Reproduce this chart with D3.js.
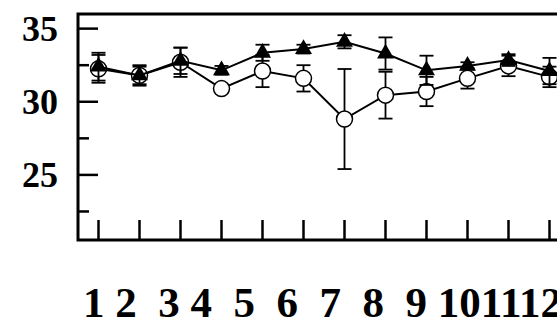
<!DOCTYPE html>
<html>
<head>
<meta charset="utf-8">
<script src="https://cdn.jsdelivr.net/npm/d3@7"></script>
<style>
  body { margin: 0; background: #fff; }
  text { font-family: "Liberation Serif", "Times New Roman", serif; font-weight: bold; fill: #000; }
</style>
</head>
<body>
<div id="chart"></div>
<script>
// categories (x) and tick labels
var xValues = [1, 2, 3, 4, 5, 6, 7, 8, 9, 10, 11, 12];
var xLabels = ["1", "2", "3", "4", "5", "6", "7", "8", "9", "10", "11", "12"];
var yMajorTicks = [25, 30, 35];
var yMinorTicks = [22.5, 27.5, 32.5];

// filled triangles series: mean and error
var triMean = [32.4, 31.8, 32.8, 32.15, 33.35, 33.6, 34.1, 33.3, 32.15, 32.45, 32.85, 32.1];
var triErr  = [0.95, 0.6, 0.9, 0.3, 0.55, 0.3, 0.45, 1.1, 1.0, 0.25, 0.4, 0.9];

// open circles series: mean and error
var circMean = [32.25, 31.8, 32.7, 30.9, 32.1, 31.6, 28.82, 30.45, 30.7, 31.6, 32.45, 31.7];
var circErr  = [0.95, 0.7, 1.0, 0.3, 1.1, 0.9, 3.42, 1.6, 1.0, 0.7, 0.7, 0.7];

var width = 557, height = 320;

var x = d3.scaleLinear().domain([0.5, 12.5]).range([78, 570]);
var y = d3.scaleLinear().domain([20.55, 36]).range([240, 14]);

var svg = d3.select("#chart").append("svg")
  .attr("width", width)
  .attr("height", height);

// frame: left, bottom, top (right side runs off the page)
svg.append("path")
  .attr("d", "M" + x(12.5) + "," + y(36) + "H" + x(0.5) + "V" + y(20.55) + "H" + x(12.5))
  .attr("fill", "none")
  .attr("stroke", "#000")
  .attr("stroke-width", 3);

// y ticks pointing inward
svg.selectAll(".ymaj").data(yMajorTicks).enter().append("line")
  .attr("x1", x(0.5)).attr("x2", x(0.5) + 20)
  .attr("y1", function(d) { return y(d); }).attr("y2", function(d) { return y(d); })
  .attr("stroke", "#000").attr("stroke-width", 2.5);

svg.selectAll(".ymin").data(yMinorTicks).enter().append("line")
  .attr("x1", x(0.5)).attr("x2", x(0.5) + 11)
  .attr("y1", function(d) { return y(d); }).attr("y2", function(d) { return y(d); })
  .attr("stroke", "#000").attr("stroke-width", 2.5);

svg.selectAll(".ylab").data(yMajorTicks).enter().append("text")
  .attr("x", 58)
  .attr("y", function(d) { return y(d); })
  .attr("dy", "0.34em")
  .attr("text-anchor", "end")
  .style("font-size", "36px")
  .text(function(d) { return d; });

// x ticks pointing up from the bottom
svg.selectAll(".xtick").data(xValues).enter().append("line")
  .attr("x1", function(d) { return x(d); }).attr("x2", function(d) { return x(d); })
  .attr("y1", y(20.55)).attr("y2", y(20.55) - 20)
  .attr("stroke", "#000").attr("stroke-width", 2.5);

// x labels, set as one line of text like the original
var gaps = [1, 2, 1, 2, 2, 2, 2, 2, 1, 0, 0, 0];
var xText = svg.append("text")
  .attr("x", 83)
  .attr("y", 317)
  .attr("xml:space", "preserve")
  .style("white-space", "pre")
  .style("font-size", "43px");
xText.text(xLabels.map(function(l, i) { return l + " ".repeat(gaps[i]); }).join(""));

var line = d3.line()
  .x(function(d, i) { return x(xValues[i]); })
  .y(function(d) { return y(d); });

function errorBars(mean, err) {
  var g = svg.append("g").attr("stroke", "#000").attr("stroke-width", 1.8);
  mean.forEach(function(m, i) {
    var cx = x(xValues[i]);
    g.append("line").attr("x1", cx).attr("x2", cx)
      .attr("y1", y(m - err[i])).attr("y2", y(m + err[i]));
    [m - err[i], m + err[i]].forEach(function(v) {
      g.append("line").attr("x1", cx - 7).attr("x2", cx + 7)
        .attr("y1", y(v)).attr("y2", y(v));
    });
  });
}

// circles series
errorBars(circMean, circErr);
svg.append("path").datum(circMean)
  .attr("d", line)
  .attr("fill", "none").attr("stroke", "#000").attr("stroke-width", 2);
svg.selectAll(".circ").data(circMean).enter().append("circle")
  .attr("cx", function(d, i) { return x(xValues[i]); })
  .attr("cy", function(d) { return y(d); })
  .attr("r", 8)
  .attr("fill", "#fff").attr("stroke", "#000").attr("stroke-width", 1.5);

// triangles series
errorBars(triMean, triErr);
svg.append("path").datum(triMean)
  .attr("d", line)
  .attr("fill", "none").attr("stroke", "#000").attr("stroke-width", 2);
var tri = d3.symbol().type(d3.symbolTriangle).size(125);
svg.selectAll(".tri").data(triMean).enter().append("path")
  .attr("d", tri)
  .attr("transform", function(d, i) { return "translate(" + x(xValues[i]) + "," + y(d) + ")"; })
  .attr("fill", "#000");
</script>
</body>
</html>
